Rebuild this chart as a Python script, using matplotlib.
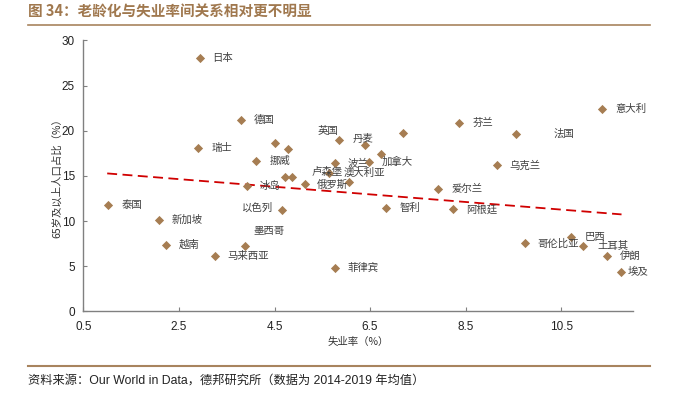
import matplotlib
matplotlib.use("Agg")
import matplotlib.pyplot as plt
from matplotlib.lines import Line2D

plt.rcParams['font.family'] = ['Noto Sans CJK SC', 'DejaVu Sans']

# ---- data ----
countries = ["日本", "德国", "瑞士", "", "", "挪威", "", "", "冰岛",
             "英国", "丹麦", "", "芬兰", "法国", "意大利", "加拿大", "波兰", "",
             "澳大利亚", "俄罗斯", "卢森堡", "乌克兰", "爱尔兰", "智利", "阿根廷",
             "泰国", "新加坡", "越南", "马来西亚", "墨西哥", "以色列", "菲律宾",
             "哥伦比亚", "巴西", "土耳其", "伊朗", "埃及"]
unemployment = [2.95, 3.79, 2.91, 4.52, 4.79, 4.12, 4.71, 4.86, 3.92,
                5.84, 6.39, 7.19, 8.37, 9.55, 11.35, 6.72, 6.48, 5.77,
                5.64, 5.14, 6.05, 9.15, 7.93, 6.84, 8.24,
                1.02, 2.08, 2.22, 3.25, 3.89, 4.66, 5.77,
                9.75, 10.70, 10.96, 11.45, 11.75]
aged65 = [28.0, 21.2, 18.1, 18.65, 18.0, 16.6, 14.9, 14.85, 13.9,
          19.0, 18.4, 19.7, 20.9, 19.65, 22.4, 17.4, 16.55, 16.37,
          15.33, 14.08, 14.3, 16.15, 13.5, 11.4, 11.28,
          11.8, 10.1, 7.33, 6.15, 7.26, 11.17, 4.76,
          7.52, 8.25, 7.26, 6.12, 4.38]
trend_x = [1.0, 11.76]
trend_y = [15.27, 10.73]
x_ticks = [0.5, 2.5, 4.5, 6.5, 8.5, 10.5]
y_ticks = [0, 5, 10, 15, 20, 25, 30]

# label offsets in pixels (dx right, dy down)
label_offsets = {"英国": (-21, -8.6), "丹麦": (-12.7, -6), "法国": (38, 0),
                 "加拿大": (1.3, 7.7), "波兰": (-22, 1), "澳大利亚": (15, 0),
                 "卢森堡": (-36.6, -10.3), "墨西哥": (8.3, -14.7),
                 "以色列": (-39.7, -2.6), "埃及": (6.3, 0), "俄罗斯": (12, 0),
                 "日本": (12, 0), "德国": (13, 0), "菲律宾": (12, 0),
                 "哥伦比亚": (12, 0), "巴西": (13.7, 0), "土耳其": (14, 0)}

W, H = 698, 395
fig = plt.figure(figsize=(W / 100, H / 100), dpi=100)
ax = fig.add_axes([83.3 / W, 1 - 311.3 / H, (633 - 83.3) / W, (311.3 - 40.4) / H])

marker_color = "#A67D52"
ax.scatter(unemployment, aged65, marker="D", s=22, color=marker_color,
           linewidths=0, zorder=3)
ax.plot(trend_x, trend_y, color="#D00000", lw=1.3, dashes=(5.5, 3), zorder=2)

for name, xv, yv in zip(countries, unemployment, aged65):
    if not name:
        continue
    dx, dy = label_offsets.get(name, (13, 0))
    ax.annotate(name, (xv, yv), xytext=(dx, -dy), textcoords="offset pixels",
                ha="left", va="center", fontsize=7.5, color="#404040", zorder=4)

ax.set_xlim(0.5, 12)
ax.set_ylim(0, 30)
ax.set_xticks(x_ticks)
ax.set_xticklabels([f"{v}" for v in x_ticks])
ax.set_yticks(y_ticks)
for s in ["top", "right"]:
    ax.spines[s].set_visible(False)
for s in ["left", "bottom"]:
    ax.spines[s].set_color("#808080")
    ax.spines[s].set_linewidth(1.0)
ax.tick_params(direction="in", length=3, width=0.8, color="#808080",
               labelsize=8.5, labelcolor="#222222")
ax.tick_params(axis="x", pad=7)
ax.tick_params(axis="y", pad=6)
for lab in ax.get_xticklabels() + ax.get_yticklabels():
    lab.set_family(["Liberation Sans", "DejaVu Sans"])

ax.set_xlabel("失业率（%）", fontsize=7.5, color="#333333")
ax.xaxis.set_label_coords(0.5, -0.112)
ax.xaxis.label.set_va("center")
ax.set_ylabel("65岁及以上人口占比（%）", fontsize=7.5, color="#333333")
ax.yaxis.set_label_coords(-0.047, 0.5)
ax.yaxis.label.set_va("center")

# title, rules and source
title_color = "#A0784E"
fig.text(28 / W, 1 - 12 / H, "图 34：老龄化与失业率间关系相对更不明显",
         fontsize=10.5, fontweight="bold", color=title_color,
         ha="left", va="center")
fig.add_artist(Line2D([28 / W, 650 / W], [1 - 25 / H, 1 - 25 / H],
                      color="#A8845E", lw=1.2))
fig.add_artist(Line2D([28 / W, 650 / W], [1 - 365.7 / H, 1 - 365.7 / H],
                      color="#A8845E", lw=1.5))
fig.text(28 / W, 1 - 381 / H,
         "资料来源：Our World in Data，德邦研究所（数据为 2014-2019 年均值）",
         fontsize=8.8, color="#222222", ha="left", va="center",
         family=["Liberation Sans", "Noto Sans CJK SC"])

fig.savefig("out.png", dpi=100)
